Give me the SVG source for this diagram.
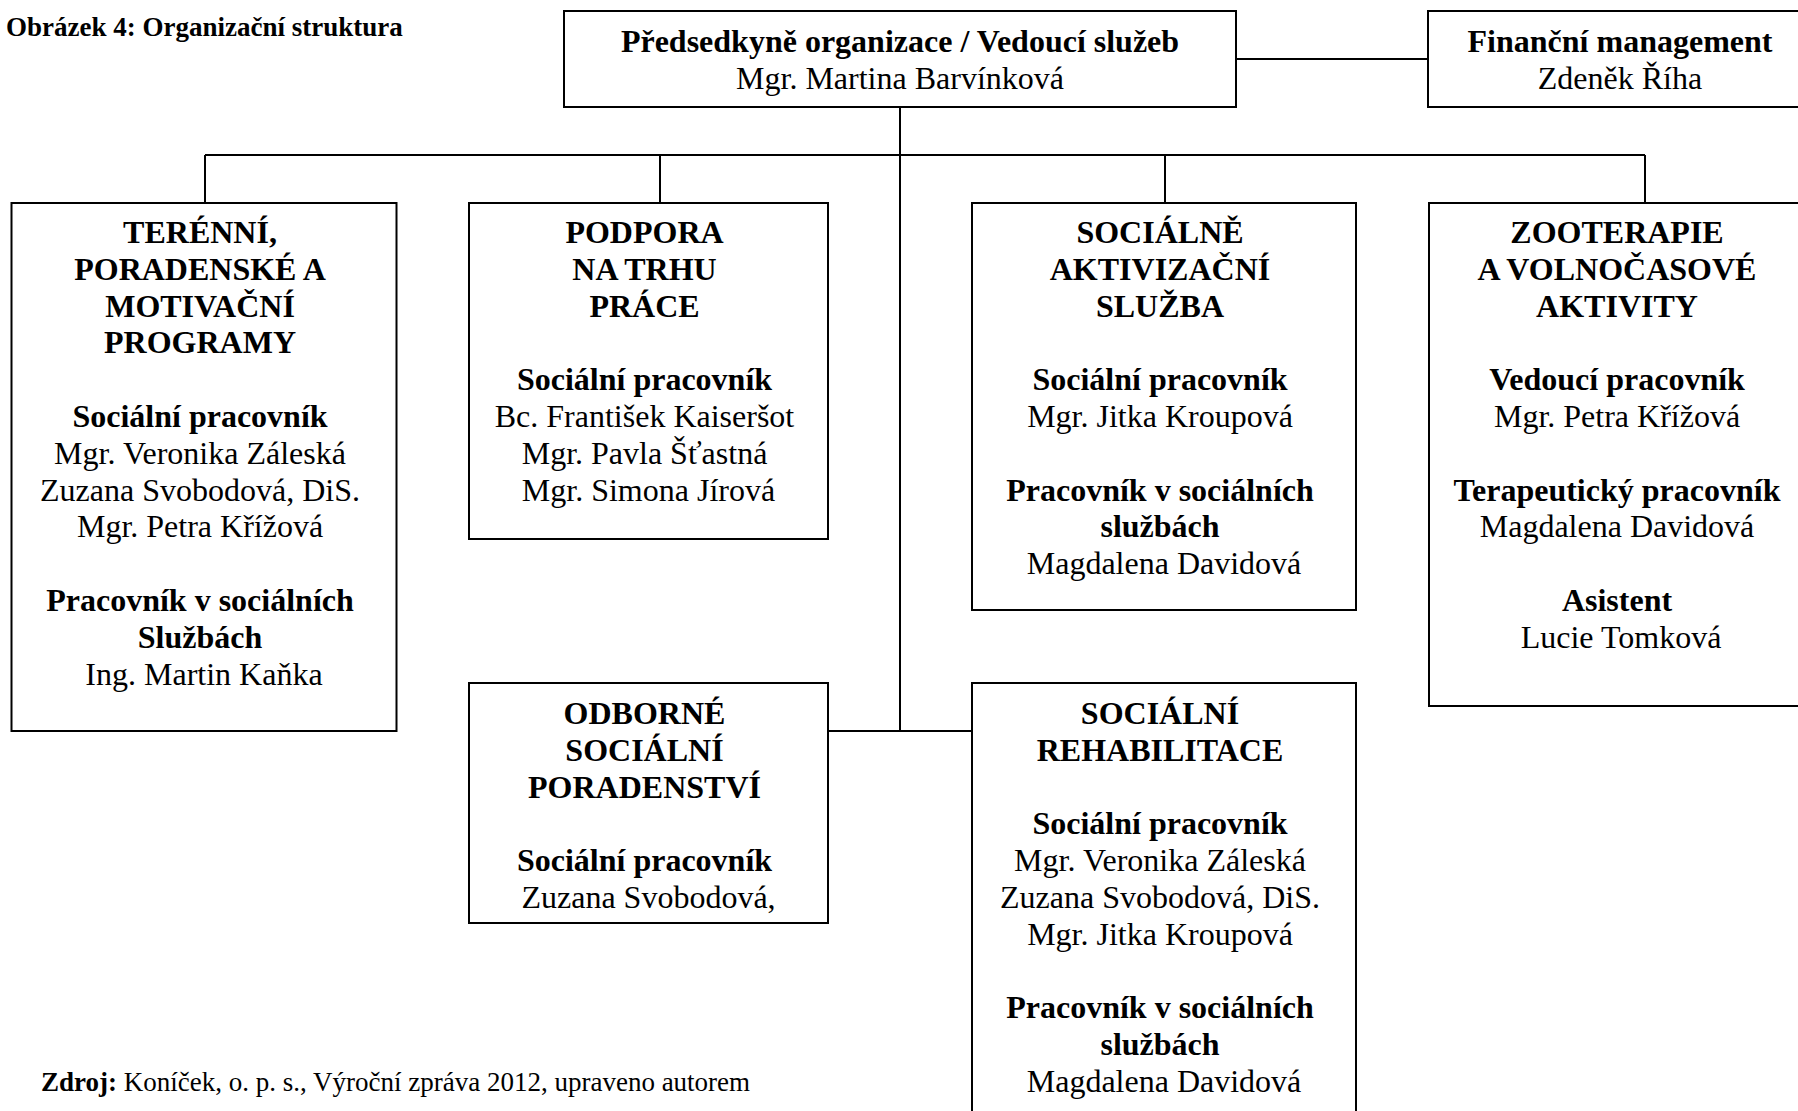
<svg xmlns="http://www.w3.org/2000/svg" width="1798" height="1111" viewBox="0 0 1798 1111">
<style>
.box{fill:#fff;stroke:#000;stroke-width:2}
.ln{fill:none;stroke:#000;stroke-width:2}
text{font-family:"Liberation Serif","Times New Roman",serif;font-size:32px;fill:#000;text-anchor:middle}
.b{font-weight:bold}
.cap{font-size:27px;text-anchor:start}
</style>
<rect width="1798" height="1111" fill="#fff"/>
<text class="cap b" x="6" y="35.5">Obrázek 4: Organizační struktura</text>
<g id="connectors">
<path class="ln" d="M1236 59H1428"/>
<path class="ln" d="M900 107V731"/>
<path class="ln" d="M205 155H1645"/>
<path class="ln" d="M205 155V203M660 155V203M1165 155V203M1645 155V203"/>
<path class="ln" d="M828 731H972"/>
</g>
<g id="n-top">
<rect class="box" x="564" y="11" width="672" height="96"/>
<text x="900" y="52" class="b">Předsedkyně organizace / Vedoucí služeb</text>
<text x="900" y="89">Mgr. Martina Barvínková</text>
</g>
<g id="n-fin">
<rect class="box" x="1428" y="11" width="386" height="96"/>
<text x="1620" y="52" class="b">Finanční management</text>
<text x="1620" y="89">Zdeněk Říha</text>
</g>
<g id="n-teren">
<rect class="box" x="11.5" y="203" width="385" height="528"/>
<text x="204">
<tspan class="b" x="204" y="243">TERÉNNÍ,</tspan>
<tspan class="b" x="204" y="279.8">PORADENSKÉ A</tspan>
<tspan class="b" x="204" y="316.6">MOTIVAČNÍ</tspan>
<tspan class="b" x="204" y="353.4">PROGRAMY</tspan>
<tspan class="b" x="204" y="427">Sociální pracovník</tspan>
<tspan x="204" y="463.8">Mgr. Veronika Záleská</tspan>
<tspan x="204" y="500.6">Zuzana Svobodová, DiS.</tspan>
<tspan x="204" y="537.4">Mgr. Petra Křížová</tspan>
<tspan class="b" x="204" y="611">Pracovník v sociálních</tspan>
<tspan class="b" x="204" y="647.8">Službách</tspan>
<tspan x="204" y="684.6">Ing. Martin Kaňka</tspan>
</text>
</g>
<g id="n-podpora">
<rect class="box" x="469" y="203" width="359" height="336"/>
<text x="648.5">
<tspan class="b" x="648.5" y="243">PODPORA</tspan>
<tspan class="b" x="648.5" y="279.8">NA TRHU</tspan>
<tspan class="b" x="648.5" y="316.6">PRÁCE</tspan>
<tspan class="b" x="648.5" y="390.2">Sociální pracovník</tspan>
<tspan x="648.5" y="427">Bc. František Kaiseršot</tspan>
<tspan x="648.5" y="463.8">Mgr. Pavla Šťastná</tspan>
<tspan x="648.5" y="500.6">Mgr. Simona Jírová</tspan>
</text>
</g>
<g id="n-aktiv">
<rect class="box" x="972" y="203" width="384" height="407"/>
<text x="1164">
<tspan class="b" x="1164" y="243">SOCIÁLNĚ</tspan>
<tspan class="b" x="1164" y="279.8">AKTIVIZAČNÍ</tspan>
<tspan class="b" x="1164" y="316.6">SLUŽBA</tspan>
<tspan class="b" x="1164" y="390.2">Sociální pracovník</tspan>
<tspan x="1164" y="427">Mgr. Jitka Kroupová</tspan>
<tspan class="b" x="1164" y="500.6">Pracovník v sociálních</tspan>
<tspan class="b" x="1164" y="537.4">službách</tspan>
<tspan x="1164" y="574.2">Magdalena Davidová</tspan>
</text>
</g>
<g id="n-zoo">
<rect class="box" x="1429" y="203" width="386" height="503"/>
<text x="1621">
<tspan class="b" x="1621" y="243">ZOOTERAPIE</tspan>
<tspan class="b" x="1621" y="279.8">A VOLNOČASOVÉ</tspan>
<tspan class="b" x="1621" y="316.6">AKTIVITY</tspan>
<tspan class="b" x="1621" y="390.2">Vedoucí pracovník</tspan>
<tspan x="1621" y="427">Mgr. Petra Křížová</tspan>
<tspan class="b" x="1621" y="500.6">Terapeutický pracovník</tspan>
<tspan x="1621" y="537.4">Magdalena Davidová</tspan>
<tspan class="b" x="1621" y="611">Asistent</tspan>
<tspan x="1621" y="647.8">Lucie Tomková</tspan>
</text>
</g>
<g id="n-odborne">
<rect class="box" x="469" y="683" width="359" height="240"/>
<text x="648.5">
<tspan class="b" x="648.5" y="724">ODBORNÉ</tspan>
<tspan class="b" x="648.5" y="760.8">SOCIÁLNÍ</tspan>
<tspan class="b" x="648.5" y="797.6">PORADENSTVÍ</tspan>
<tspan class="b" x="648.5" y="871.2">Sociální pracovník</tspan>
<tspan x="648.5" y="908">Zuzana Svobodová,</tspan>
</text>
</g>
<g id="n-rehab">
<rect class="box" x="972" y="683" width="384" height="440"/>
<text x="1164">
<tspan class="b" x="1164" y="724">SOCIÁLNÍ</tspan>
<tspan class="b" x="1164" y="760.8">REHABILITACE</tspan>
<tspan class="b" x="1164" y="834.4">Sociální pracovník</tspan>
<tspan x="1164" y="871.2">Mgr. Veronika Záleská</tspan>
<tspan x="1164" y="908">Zuzana Svobodová, DiS.</tspan>
<tspan x="1164" y="944.8">Mgr. Jitka Kroupová</tspan>
<tspan class="b" x="1164" y="1018.4">Pracovník v sociálních</tspan>
<tspan class="b" x="1164" y="1055.2">službách</tspan>
<tspan x="1164" y="1092">Magdalena Davidová</tspan>
</text>
</g>
<text class="cap" x="41" y="1090.5"><tspan class="b">Zdroj:</tspan> Koníček, o. p. s., Výroční zpráva 2012, upraveno autorem</text>
</svg>
